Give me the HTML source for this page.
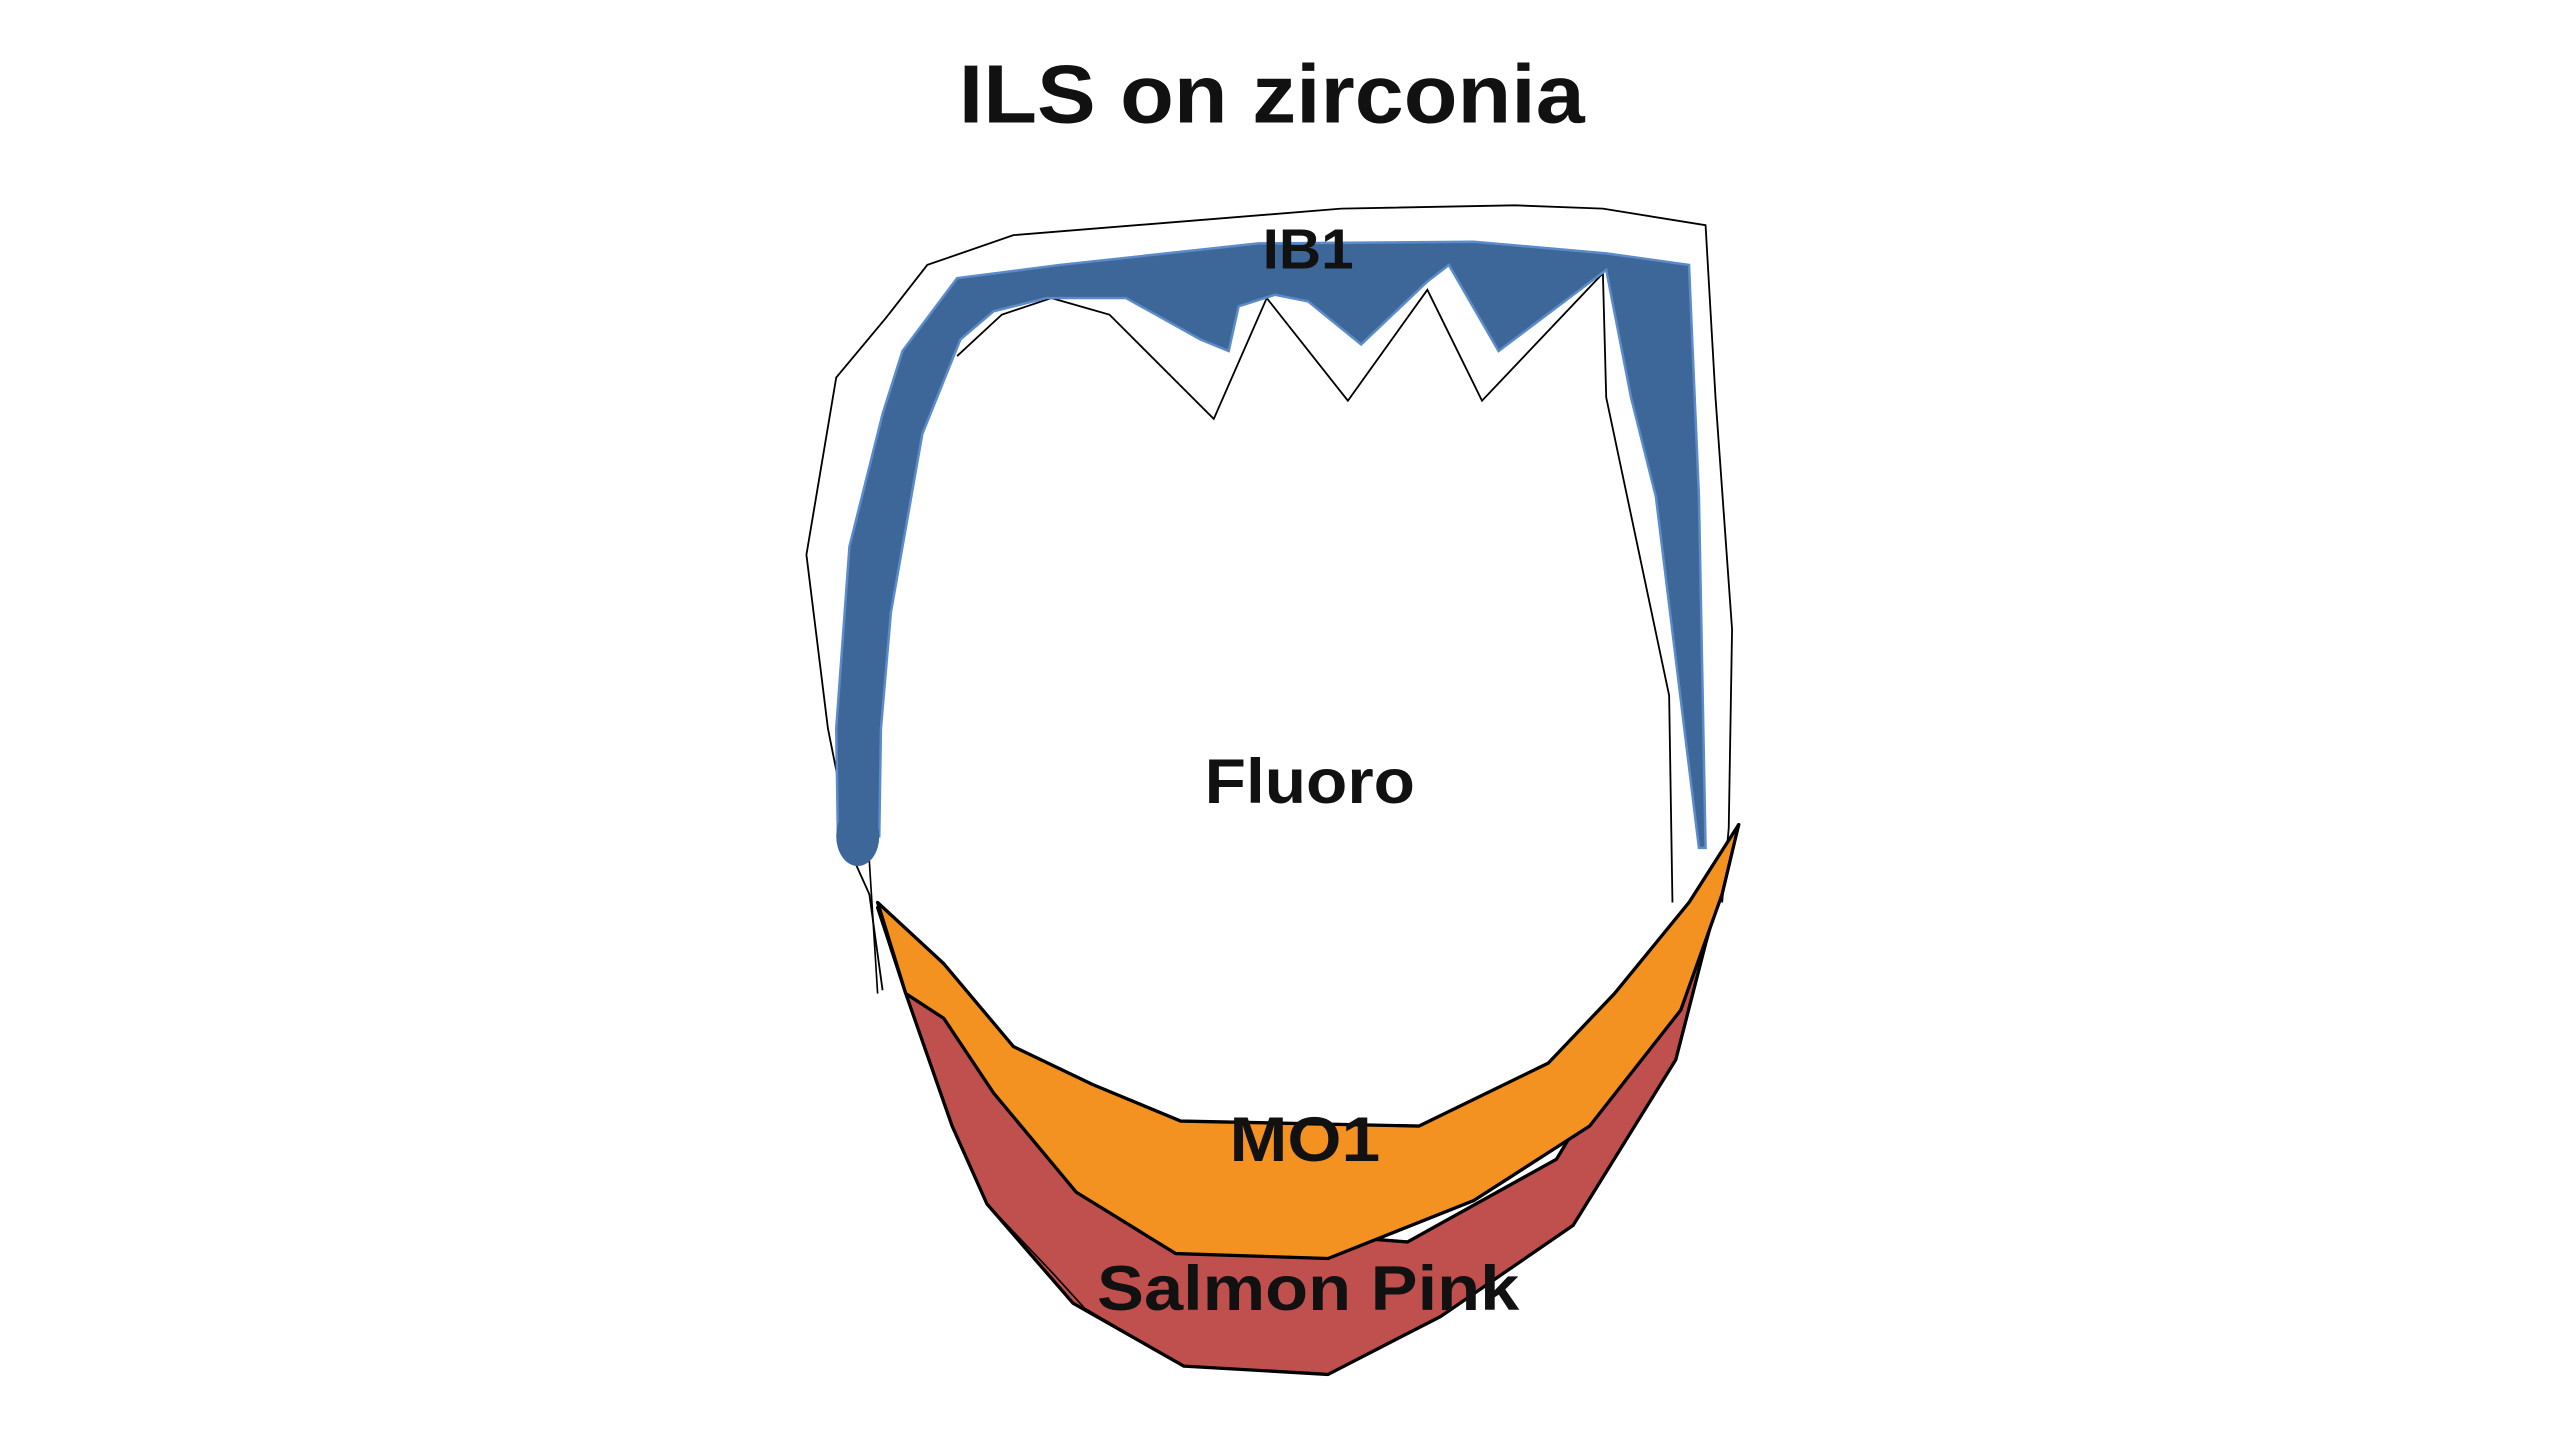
<!DOCTYPE html>
<html><head><meta charset="utf-8"><style>
html,body{margin:0;padding:0;background:#fff;}
svg{display:block;}
text{font-family:"Liberation Sans",Arial,sans-serif;font-weight:bold;fill:#111;}
</style></head><body>
<svg width="2560" height="1440" viewBox="0 0 1546 869.6" preserveAspectRatio="none" xmlns="http://www.w3.org/2000/svg">
<rect width="1546" height="870" fill="#fff"/>
<text x="768" y="74" font-size="50" text-anchor="middle" textLength="378" lengthAdjust="spacingAndGlyphs">ILS on zirconia</text>
<!-- outer outline -->
<polyline points="533,598 525,540 516,520 500,440 487,335 505,228 535,192 560,160 612,142 810,126 915,124 968,126 1030,136 1036,240 1046,380 1044,500 1040,545" fill="none" stroke="#000" stroke-width="1.1"/>
<!-- inner prep outline -->
<polyline points="525,520 530,600" fill="none" stroke="#000" stroke-width="1"/>
<polyline points="578,215 605,190 635,180 670,190 733,253 765,180 814,242 862,175 895,242 968,165 970,240 1008,420 1010,545" fill="none" stroke="#000" stroke-width="1.1"/>
<!-- blue band -->
<g fill="#3e6799" stroke="#5b8bc9" stroke-width="1.5">
<polygon points="506,505 505,440 513,330 533,250 545,212 578,168 640,160 760,147 890,146 970,153 1020,160 1026,300 1030,512 1026,512 1000,300 985,240 970,163 905,212 875,160 862,170 822,208 790,182 770,178 748,185 742,212 725,205 680,180 632,180 600,188 580,205 557,262 538,370 532,440 531,505"/>
</g>
<ellipse cx="518" cy="505" rx="13" ry="18" fill="#3e6799"/>
<!-- red -->
<polygon points="530,548 547,600 575,680 596,727 648,787 715,825 802,830 870,795 950,740 1012,640 1030,570 1050,498 1000,600 940,700 850,750 720,740 620,680 565,600" fill="#c0504d" stroke="#000" stroke-width="2" stroke-linejoin="round"/>
<polyline points="596,727 635,768 655,790 715,825" fill="none" stroke="#000" stroke-width="1"/>
<!-- orange -->
<polygon points="530,545 570,582 612,632 660,655 713,677 857,680 935,642 975,600 1020,545 1050,498 1040,540 1015,610 960,680 890,725 802,760 710,757 650,720 600,660 570,615 547,600" fill="#f39220" stroke="#000" stroke-width="2" stroke-linejoin="round"/>
<text x="790" y="162" font-size="34" text-anchor="middle" textLength="55" lengthAdjust="spacingAndGlyphs">IB1</text>
<text x="791" y="485" font-size="38" text-anchor="middle" textLength="127" lengthAdjust="spacingAndGlyphs">Fluoro</text>
<text x="788" y="701" font-size="38" text-anchor="middle" textLength="91" lengthAdjust="spacingAndGlyphs">MO1</text>
<text x="790" y="791" font-size="38" text-anchor="middle" textLength="255" lengthAdjust="spacingAndGlyphs">Salmon Pink</text>
</svg>
</body></html>
